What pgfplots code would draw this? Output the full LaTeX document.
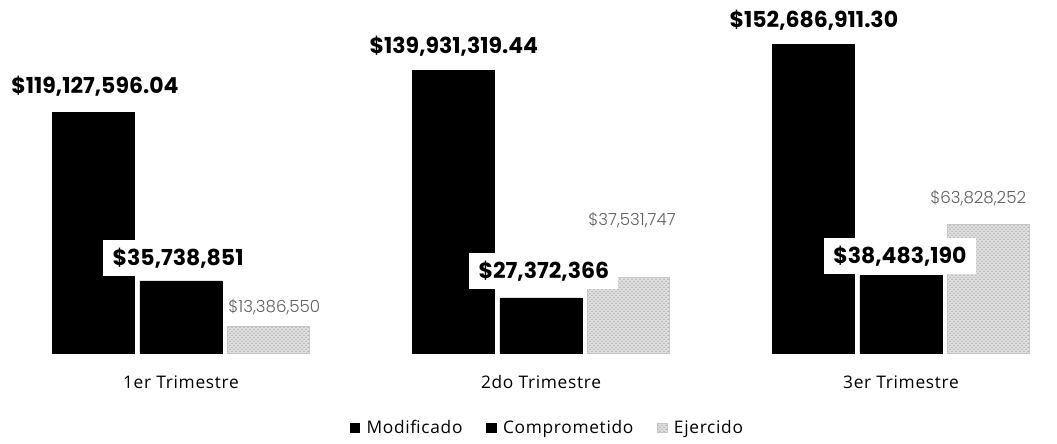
\documentclass[border=0pt]{standalone}
\usepackage{fontspec}
\setmainfont{Open Sans}[LetterSpace=4]
\newfontfamily\pop{Poppins}
\newfontfamily\poplight{Poppins Light}
\usepackage{pgfplots}
\pgfplotsset{compat=1.18}
\usetikzlibrary{patterns}

\begin{document}
\begin{tikzpicture}
\begin{axis}[
    scale only axis,
    width=792.75pt, height=332.25pt,
    xmin=-0.5028, xmax=2.4333,
    ymin=-44.55, ymax=174.75,
    axis line style={draw=none},
    ytick=\empty,
    xtick={0,1,2},
    xticklabels={1er Trimestre,2do Trimestre,3er Trimestre},
    major tick length=0pt,
    xticklabel style={anchor=center, yshift=45.75pt, font=\fontsize{13}{15}\selectfont},
    bar width=0.228,
    legend columns=3,
    legend style={at={(axis cs:1.019,-37.1)}, anchor=center, draw=none,
        font=\fontsize{13}{15}\selectfont,
        /tikz/every odd column/.append style={column sep=3pt},
        /tikz/every even column/.append style={column sep=16pt}},
    legend image code/.code={\draw[#1] (0pt,-3.5pt) rectangle (7pt,3.5pt);},
]
\addplot[ybar, bar shift=-0.243, fill=black, draw=black] coordinates {
    (0,119.128)(1,139.931)(2,152.687)};
\addlegendentry{Modificado}
\addplot[ybar, bar shift=0, fill=black, draw=black] coordinates {
    (0,35.739)(1,27.372)(2,38.483)};
\addlegendentry{Comprometido}
\addplot[ybar, bar shift=0.243, fill=gray!25, draw=gray!45,
    postaction={pattern=crosshatch dots, pattern color=gray!85}] coordinates {
    (0,13.387)(1,37.532)(2,63.828)};
\addlegendentry{Ejercido}

\node[font=\pop\bfseries\fontsize{16.5}{18}\selectfont] at (axis cs:-0.239,132.2) {\$119,127,596.04};
\node[font=\pop\bfseries\fontsize{16.5}{18}\selectfont] at (axis cs:0.758,152.0) {\$139,931,319.44};
\node[font=\pop\bfseries\fontsize{16.5}{18}\selectfont] at (axis cs:1.758,164.9) {\$152,686,911.30};
\node[fill=white, inner xsep=7pt, inner ysep=6pt, font=\pop\bfseries\fontsize{16.5}{18}\selectfont] at (axis cs:-0.008,47.0) {\$35,738,851};
\node[fill=white, inner xsep=7pt, inner ysep=6pt, font=\pop\bfseries\fontsize{16.5}{18}\selectfont] at (axis cs:1.008,40.6) {\$27,372,366};
\node[fill=white, inner xsep=7pt, inner ysep=6pt, font=\pop\bfseries\fontsize{16.5}{18}\selectfont] at (axis cs:1.997,48.0) {\$38,483,190};
\node[anchor=west, inner sep=0pt, text=gray!75!black, font=\poplight\fontsize{12.5}{14}\selectfont] at (axis cs:0.131,22.8) {\$13,386,550};
\node[anchor=west, inner sep=0pt, text=gray!75!black, font=\poplight\fontsize{12.5}{14}\selectfont] at (axis cs:1.131,65.8) {\$37,531,747};
\node[anchor=west, inner sep=0pt, text=gray!75!black, font=\poplight\fontsize{12.5}{14}\selectfont] at (axis cs:2.081,76.7) {\$63,828,252};
\end{axis}
\end{tikzpicture}
\end{document}
